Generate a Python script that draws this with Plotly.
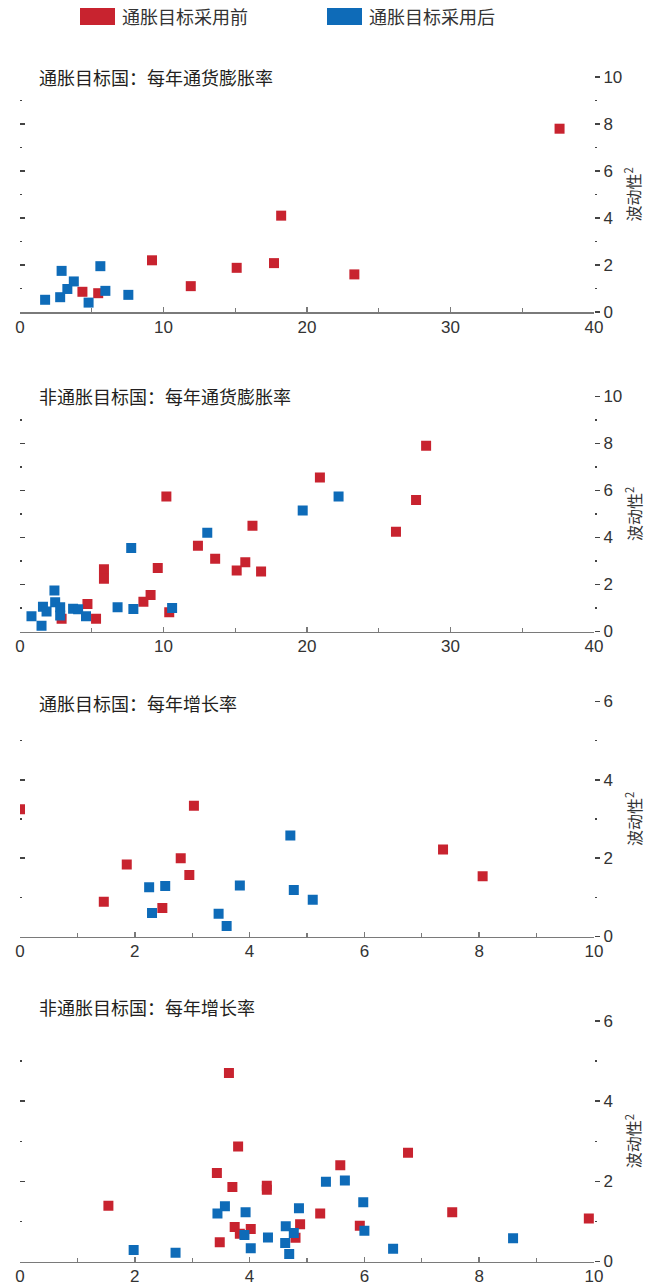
import plotly.graph_objects as go

# ---------------- data ----------------
p1_red_x = [37.6, 18.2, 9.2, 17.7, 15.1, 23.3, 11.9, 4.35, 5.45]
p1_red_y = [7.8, 4.1, 2.2, 2.08, 1.88, 1.6, 1.1, 0.86, 0.8]
p1_blue_x = [1.75, 2.8, 2.9, 3.3, 3.75, 4.78, 5.6, 5.95, 7.55]
p1_blue_y = [0.52, 0.63, 1.75, 0.98, 1.3, 0.4, 1.95, 0.9, 0.73]

p2_red_x = [28.3, 20.9, 10.2, 27.6, 26.2, 16.2, 12.4, 13.6, 15.7, 9.6, 15.1,
            16.8, 5.85, 5.85, 9.1, 8.6, 4.7, 5.3, 2.9, 10.4]
p2_red_y = [7.9, 6.55, 5.75, 5.6, 4.25, 4.5, 3.65, 3.1, 2.95, 2.7, 2.6,
            2.55, 2.65, 2.25, 1.55, 1.27, 1.17, 0.54, 0.54, 0.82]
p2_blue_x = [22.2, 19.7, 13.05, 7.75, 2.4, 2.45, 1.6, 1.85, 0.8, 1.5, 2.8,
             2.8, 3.7, 4.05, 4.6, 6.8, 7.9, 10.6]
p2_blue_y = [5.75, 5.15, 4.2, 3.55, 1.75, 1.25, 1.05, 0.85, 0.65, 0.25, 1.03,
             0.68, 0.97, 0.95, 0.65, 1.03, 0.96, 1.0]

p3_red_x = [0.0, 3.03, 2.8, 1.86, 7.37, 8.06, 2.95, 1.46, 2.48]
p3_red_y = [3.25, 3.34, 2.0, 1.84, 2.22, 1.54, 1.57, 0.89, 0.73]
p3_blue_x = [4.71, 2.25, 2.53, 3.83, 4.77, 5.1, 2.3, 3.46, 3.6]
p3_blue_y = [2.58, 1.26, 1.29, 1.3, 1.19, 0.94, 0.6, 0.58, 0.27]

p4_red_x = [3.64, 3.8, 6.76, 5.58, 3.43, 3.7, 4.3, 4.3, 1.54, 5.23, 7.53,
            9.91, 4.88, 3.74, 4.02, 5.92, 3.83, 4.8, 3.48]
p4_red_y = [4.7, 2.87, 2.71, 2.4, 2.21, 1.86, 1.89, 1.79, 1.39, 1.2, 1.23,
            1.07, 0.93, 0.86, 0.81, 0.89, 0.69, 0.59, 0.48]
p4_blue_x = [5.33, 5.66, 5.98, 3.57, 3.44, 3.93, 4.86, 4.63, 4.77, 6.0, 3.91,
             4.32, 4.62, 4.02, 4.69, 1.98, 2.71, 6.5, 8.59]
p4_blue_y = [1.99, 2.02, 1.48, 1.38, 1.2, 1.23, 1.33, 0.88, 0.71, 0.77, 0.66,
             0.6, 0.46, 0.33, 0.19, 0.29, 0.22, 0.32, 0.58]

panel_titles = ["通胀目标国：每年通货膨胀率", "非通胀目标国：每年通货膨胀率",
                "通胀目标国：每年增长率", "非通胀目标国：每年增长率"]
legend_labels = ["通胀目标采用前", "通胀目标采用后"]
y_title = "波动性<sup>2</sup>"

x_ranges = [[0, 40], [0, 40], [0, 10], [0, 10]]
x_dticks = [10, 10, 2, 2]
x_minor = [5, 5, 1, 1]
y_ranges = [[0, 10], [0, 10], [0, 6], [0, 6]]

# ---------------- style ----------------
W, H = 653, 1287
RED = "#C8232F"
BLUE = "#0E6BB8"
CJK = "Noto Sans CJK SC"
NUM = "Liberation Sans, Arial, sans-serif"
AX = "#7a7a7a"
TK = "#444444"

# pixel geometry of panels: (top px of y max, bottom px of y=0)
panel_px = [(77, 312), (396.5, 631.5), (701.5, 936.5), (1021, 1261.5)]
title_px = [77, 396, 703, 1007]
x_dom = [20 / W, 594 / W]

series = [
    (p1_red_x, p1_red_y, p1_blue_x, p1_blue_y),
    (p2_red_x, p2_red_y, p2_blue_x, p2_blue_y),
    (p3_red_x, p3_red_y, p3_blue_x, p3_blue_y),
    (p4_red_x, p4_red_y, p4_blue_x, p4_blue_y),
]

fig = go.Figure()
layout = dict(
    width=W, height=H, autosize=False,
    margin=dict(l=0, r=0, t=0, b=0, autoexpand=False),
    paper_bgcolor="white", plot_bgcolor="white",
    showlegend=False,
    font=dict(family=NUM, color="#333333"),
)

annotations = []
shapes = []

for i in range(4):
    n = i + 1
    xa = "x" if n == 1 else f"x{n}"
    ya = "y" if n == 1 else f"y{n}"
    ya_left = f"y{n + 4}"
    rx, ry, bx, by = series[i]
    marker_common = dict(symbol="square", size=10, line=dict(width=0))
    fig.add_trace(go.Scatter(x=rx, y=ry, mode="markers", xaxis=xa, yaxis=ya,
                             name=legend_labels[0],
                             marker=dict(color=RED, **marker_common)))
    fig.add_trace(go.Scatter(x=bx, y=by, mode="markers", xaxis=xa, yaxis=ya,
                             name=legend_labels[1],
                             marker=dict(color=BLUE, **marker_common)))
    # empty trace for the left tick-only axis
    fig.add_trace(go.Scatter(x=[], y=[], mode="markers", xaxis=xa,
                             yaxis=ya_left, hoverinfo="skip"))

    top, bot = panel_px[i]
    y_dom = [1 - bot / H, 1 - top / H]
    xkey = "xaxis" if n == 1 else f"xaxis{n}"
    ykey = "yaxis" if n == 1 else f"yaxis{n}"
    layout[xkey] = dict(
        domain=x_dom, range=x_ranges[i], anchor=ya, automargin=False,
        showline=True, linecolor=AX, linewidth=1.5,
        ticks="inside", ticklen=5, tickwidth=1.5, tickcolor=AX,
        tick0=0, dtick=x_dticks[i],
        minor=dict(dtick=x_minor[i], ticks="inside", ticklen=4,
                   tickwidth=1.2, tickcolor=AX),
        showgrid=False, zeroline=False,
        tickfont=dict(family=NUM, size=17, color="#333333"),
        ticklabelstandoff=-1,
    )
    layout[ykey] = dict(
        domain=y_dom, range=y_ranges[i], anchor=xa, side="right",
        automargin=False,
        showline=False, showgrid=False, zeroline=False,
        ticks="outside", ticklen=5, tickwidth=1.5, tickcolor=TK,
        tick0=0, dtick=2,
        minor=dict(dtick=1, ticks="outside", ticklen=2, tickwidth=1.5,
                   tickcolor=TK),
        tickfont=dict(family=NUM, size=17, color="#333333"),
    )
    layout[f"yaxis{n + 4}"] = dict(
        domain=y_dom, range=y_ranges[i], anchor=xa, overlaying=ya,
        side="left", automargin=False,
        showline=False, showgrid=False, zeroline=False,
        ticks="inside", ticklen=5, tickwidth=1.5, tickcolor=TK,
        tick0=0, dtick=2, showticklabels=False,
        minor=dict(dtick=1, ticks="inside", ticklen=2, tickwidth=1.5,
                   tickcolor=TK),
    )
    annotations.append(dict(
        text=panel_titles[i], xref="paper", yref="paper",
        x=37 / W, y=1 - title_px[i] / H, xanchor="left", yanchor="middle",
        showarrow=False, font=dict(family=CJK, size=18, color="#231f20"),
    ))
    # vertical axis title on the right
    annotations.append(dict(
        text=y_title, xref="paper", yref="paper", textangle=-90,
        x=633 / W, y=1 - (top + bot) / 2 / H, xanchor="center",
        yanchor="middle", showarrow=False,
        font=dict(family=CJK, size=16, color="#333333"),
    ))

# legend (drawn as shapes + text)
leg = [(80, 115, 120, RED, legend_labels[0]), (327, 362, 367, BLUE, legend_labels[1])]
for x0, x1, xt, col, lab in leg:
    shapes.append(dict(type="rect", xref="paper", yref="paper",
                       x0=x0 / W, x1=x1 / W, y0=1 - 25 / H, y1=1 - 8 / H,
                       fillcolor=col, line=dict(width=0)))
    annotations.append(dict(text=lab, xref="paper", yref="paper",
                            x=xt / W, y=1 - 16.5 / H, xanchor="left",
                            yanchor="middle", showarrow=False,
                            font=dict(family=CJK, size=18, color="#333333")))

layout["annotations"] = annotations
layout["shapes"] = shapes
fig.update_layout(**layout)

fig.write_html(
    "out.html",
    config={"displayModeBar": False, "staticPlot": True},
    post_script="document.body.style.margin='0px';"
                "document.body.style.overflow='hidden';",
)
